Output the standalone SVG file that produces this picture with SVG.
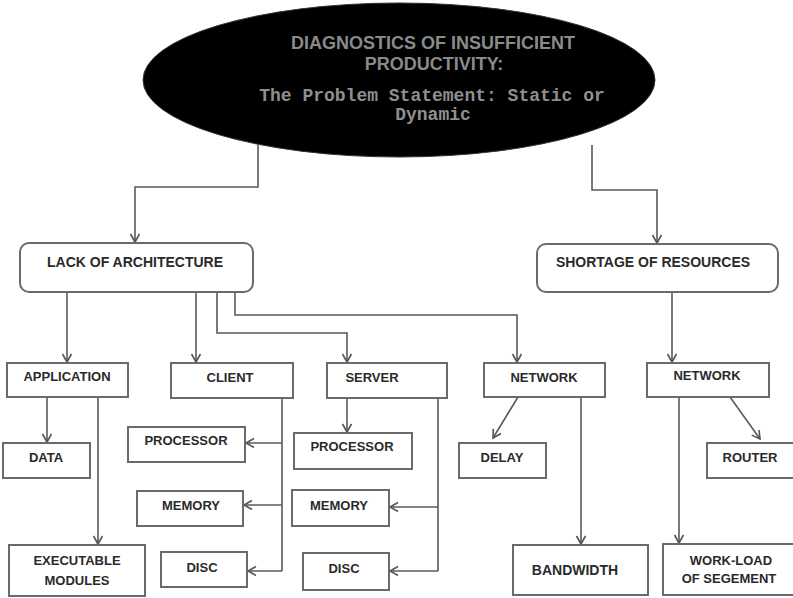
<svg xmlns="http://www.w3.org/2000/svg" width="793" height="598" viewBox="0 0 793 598">
  <defs>
    <marker id="arr" markerWidth="12" markerHeight="12" refX="9" refY="5" orient="auto" markerUnits="userSpaceOnUse">
      <path d="M1,0.5 L9,5 L1,9.5" fill="none" stroke="#555" stroke-width="1.6"/>
    </marker>
    <style>
      .box { fill: #fff; stroke: #6a6a6a; stroke-width: 2; }
      .lbl { font-family: "Liberation Sans", Arial, sans-serif; font-weight: bold; font-size: 13px; fill: #2a2a2a; text-anchor: middle; }
      .big { font-size: 14px; }
      .wire { fill: none; stroke: #5a5a5a; stroke-width: 1.6; marker-end: url(#arr); }
      .line { fill: none; stroke: #5a5a5a; stroke-width: 1.6; }
      .title { font-family: "Liberation Sans", Arial, sans-serif; font-weight: bold; font-size: 18px; fill: #8a8a8a; text-anchor: middle; }
      .mono { font-family: "Liberation Mono", "Courier New", monospace; font-weight: bold; font-size: 18px; fill: #8f8f8f; text-anchor: middle; }
    </style>
  </defs>

  <rect width="793" height="598" fill="#fff"/>

  <!-- connectors -->
  <g id="connectors">
    <path class="wire" d="M258,145 V187 H135 V242"/>
    <path class="wire" d="M592,145 V190 H657 V243"/>

    <path class="wire" d="M67,292 V362"/>
    <path class="wire" d="M196,292 V362"/>
    <path class="wire" d="M217,292 V333 H347 V362"/>
    <path class="wire" d="M235,292 V315 H517 V362"/>
    <path class="wire" d="M672,292 V362"/>

    <path class="wire" d="M47,397 V442"/>
    <path class="wire" d="M98,397 V544"/>

    <path class="line" d="M282,398 V571"/>
    <path class="wire" d="M282,443 H246"/>
    <path class="wire" d="M282,505 H244"/>
    <path class="wire" d="M282,571 H248"/>

    <path class="wire" d="M347,398 V432"/>
    <path class="line" d="M438,398 V571"/>
    <path class="wire" d="M438,507 H390"/>
    <path class="wire" d="M438,571 H390"/>

    <path class="wire" d="M518,397 L493,438"/>
    <path class="wire" d="M581,397 V544"/>

    <path class="wire" d="M679,397 V543"/>
    <path class="wire" d="M730,397 L760,439"/>
  </g>

  <!-- top node -->
  <g id="diagnostics">
    <ellipse cx="399" cy="80" rx="256" ry="77" fill="#000" stroke="#333" stroke-width="1"/>
    <text class="title" x="433" y="49">DIAGNOSTICS OF INSUFFICIENT</text>
    <text class="title" x="434" y="70">PRODUCTIVITY:</text>
    <text class="mono" x="432" y="101">The Problem Statement: Static or</text>
    <text class="mono" x="433" y="120">Dynamic</text>
  </g>

  <g id="lack-of-architecture">
    <rect class="box" x="20" y="243" width="233" height="49" rx="9"/>
    <text class="lbl big" x="135" y="267">LACK OF ARCHITECTURE</text>
  </g>

  <g id="shortage-of-resources">
    <rect class="box" x="537" y="244" width="241" height="48" rx="9"/>
    <text class="lbl big" x="653" y="267">SHORTAGE OF RESOURCES</text>
  </g>

  <g id="application">
    <rect class="box" x="7" y="363" width="121" height="34"/>
    <text class="lbl" x="67" y="381">APPLICATION</text>
  </g>

  <g id="client">
    <rect class="box" x="171" y="363" width="122" height="35"/>
    <text class="lbl" x="230" y="382">CLIENT</text>
  </g>

  <g id="server">
    <rect class="box" x="327" y="363" width="120" height="35"/>
    <text class="lbl" x="372" y="382">SERVER</text>
  </g>

  <g id="network-arch">
    <rect class="box" x="484" y="363" width="121" height="34"/>
    <text class="lbl" x="544" y="382">NETWORK</text>
  </g>

  <g id="network-res">
    <rect class="box" x="647" y="363" width="122" height="34"/>
    <text class="lbl" x="707" y="380">NETWORK</text>
  </g>

  <g id="data">
    <rect class="box" x="3" y="443" width="87" height="35"/>
    <text class="lbl" x="46" y="462">DATA</text>
  </g>

  <g id="executable-modules">
    <rect class="box" x="9" y="545" width="136" height="51"/>
    <text class="lbl" x="77" y="565">EXECUTABLE</text>
    <text class="lbl" x="77" y="585">MODULES</text>
  </g>

  <g id="client-processor">
    <rect class="box" x="128" y="427" width="117" height="35"/>
    <text class="lbl" x="186" y="445">PROCESSOR</text>
  </g>

  <g id="client-memory">
    <rect class="box" x="137" y="491" width="106" height="35"/>
    <text class="lbl" x="191" y="510">MEMORY</text>
  </g>

  <g id="client-disc">
    <rect class="box" x="161" y="552" width="86" height="35"/>
    <text class="lbl" x="202" y="572">DISC</text>
  </g>

  <g id="server-processor">
    <rect class="box" x="294" y="433" width="118" height="36"/>
    <text class="lbl" x="352" y="451">PROCESSOR</text>
  </g>

  <g id="server-memory">
    <rect class="box" x="292" y="490" width="97" height="36"/>
    <text class="lbl" x="339" y="510">MEMORY</text>
  </g>

  <g id="server-disc">
    <rect class="box" x="303" y="553" width="86" height="37"/>
    <text class="lbl" x="344" y="573">DISC</text>
  </g>

  <g id="delay">
    <rect class="box" x="459" y="443" width="87" height="35"/>
    <text class="lbl" x="502" y="462">DELAY</text>
  </g>

  <g id="bandwidth">
    <rect class="box" x="513" y="545" width="135" height="50"/>
    <text class="lbl big" x="575" y="575">BANDWIDTH</text>
  </g>

  <g id="router">
    <rect class="box" x="707" y="443" width="90" height="35"/>
    <text class="lbl" x="750" y="462">ROUTER</text>
  </g>

  <g id="work-load">
    <rect class="box" x="663" y="544" width="136" height="51"/>
    <text class="lbl" x="731" y="565">WORK-LOAD</text>
    <text class="lbl" x="729" y="583">OF SEGEMENT</text>
  </g>
</svg>
